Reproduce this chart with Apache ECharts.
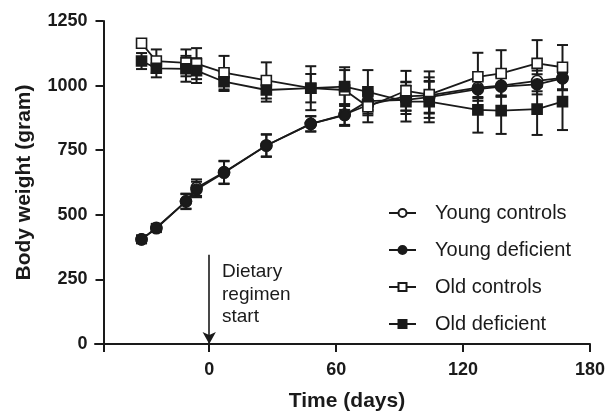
<!DOCTYPE html>
<html><head><meta charset="utf-8">
<script src="https://cdn.jsdelivr.net/npm/echarts@6/dist/echarts.min.js"></script>
<style>html,body{margin:0;padding:0;background:#fff}#c{width:609px;height:411px}</style>
</head><body><div id="c"></div>
<script>
// ---- data ----
const days = [-32, -25, -11, -6, 7, 27, 48, 64, 75, 93, 104, 127, 138, 155, 167];
const youngControls    = [405, 450, 552, 605, 665, 768, 852, 888, 925, 958, 962, 992, 1000, 1018, 1030];
const youngControlsErr = [15, 15, 30, 32, 44, 42, 30, 40, 40, 55, 70, 36, 38, 40, 45];
const youngDeficient    = [405, 448, 552, 598, 663, 768, 852, 886, 940, 945, 955, 986, 996, 1005, 1028];
const youngDeficientErr = [15, 15, 28, 30, 44, 44, 29, 42, 35, 55, 60, 35, 38, 39, 46];
const oldControls    = [1164, 1095, 1088, 1085, 1050, 1020, 990, 983, 918, 980, 965, 1034, 1047, 1086, 1071];
const oldControlsErr = [10, 45, 52, 60, 65, 70, 85, 77, 60, 77, 90, 93, 90, 90, 86];
const oldDeficient    = [1095, 1067, 1065, 1058, 1015, 983, 990, 996, 976, 938, 938, 906, 903, 909, 938];
const oldDeficientErr = [31, 35, 50, 48, 36, 45, 55, 75, 84, 77, 80, 88, 90, 100, 110];
const seriesNames = ['Young controls', 'Young deficient', 'Old controls', 'Old deficient'];
const xTickLabels = [0, 60, 120, 180];
const yTickLabels = [0, 250, 500, 750, 1000, 1250];
const arrowDay = 0;
const arrowFrom = 345;
const annotation = 'Dietary\nregimen\nstart';

// ---- styling ----
const INK = '#1a1a1a';
const FONT = "'Liberation Sans', Arial, Helvetica, sans-serif";

function pts(vals) { return days.map((d, i) => [d, vals[i]]); }
function errs(vals, e) { return days.map((d, i) => [d, vals[i] - e[i], vals[i] + e[i]]); }

function errRender(params, api) {
  const x = api.value(0), lo = api.value(1), hi = api.value(2);
  const a = api.coord([x, lo]), b = api.coord([x, hi]);
  const hw = 5.5;
  const st = { stroke: INK, lineWidth: 2, fill: null };
  return { type: 'group', children: [
    { type: 'line', shape: { x1: a[0], y1: a[1], x2: b[0], y2: b[1] }, style: st },
    { type: 'line', shape: { x1: a[0] - hw, y1: a[1], x2: a[0] + hw, y2: a[1] }, style: st },
    { type: 'line', shape: { x1: b[0] - hw, y1: b[1], x2: b[0] + hw, y2: b[1] }, style: st }
  ]};
}
function errSeries(name, vals, e, z) {
  return { type: 'custom', name: name + ' err', renderItem: errRender, data: errs(vals, e),
    encode: { x: 0, y: [1, 2] }, z: z, silent: true, animation: false };
}
function lineSeries(name, vals, symbol, filled, z) {
  return { type: 'line', name: name, data: pts(vals), symbol: symbol, symbolSize: symbol === 'rect' ? 10 : 11,
    showAllSymbol: true, z: z,
    lineStyle: { color: INK, width: 1.8 },
    itemStyle: { color: filled ? INK : '#fff', borderColor: INK, borderWidth: 1.6 },
    emphasis: { disabled: true }, animation: false };
}

const chart = echarts.init(document.getElementById('c'), null, { renderer: 'canvas' });
chart.setOption({
  backgroundColor: '#fff',
  animation: false,
  textStyle: { fontFamily: FONT, color: INK },
  grid: { left: 95, right: 19, top: 21, bottom: 67, containLabel: false, outerBoundsMode: 'none' },
  xAxis: {
    type: 'value', min: -54, max: 180,
    name: 'Time (days)', nameLocation: 'middle', nameGap: 47,
    nameTextStyle: { fontFamily: FONT, fontSize: 21, fontWeight: 'bold', color: INK, padding: [0, 0, 0, 9] },
    axisLine: { show: true, onZero: false, lineStyle: { color: INK, width: 2 } },
    axisTick: { show: true, length: 8, lineStyle: { color: INK, width: 2 }, customValues: [-50].concat(xTickLabels) },
    axisLabel: { customValues: xTickLabels, margin: 17, fontFamily: FONT, fontSize: 18, fontWeight: 'bold', color: INK,
      formatter: v => String(v) },
    splitLine: { show: false }
  },
  yAxis: {
    type: 'value', min: 0, max: 1250, interval: 250, offset: -8.5,
    name: 'Body weight (gram)', nameLocation: 'middle', nameGap: 69, nameRotate: 90,
    nameTextStyle: { fontFamily: FONT, fontSize: 21, fontWeight: 'bold', color: INK },
    axisLine: { show: true, onZero: false, lineStyle: { color: INK, width: 2 } },
    axisTick: { show: true, length: 8, lineStyle: { color: INK, width: 2 }, customValues: yTickLabels },
    axisLabel: { customValues: yTickLabels, margin: 16, fontFamily: FONT, fontSize: 18, fontWeight: 'bold', color: INK,
      formatter: v => String(v) },
    splitLine: { show: false }
  },
  legend: {
    orient: 'vertical', left: 388, top: 203, padding: 0,
    itemWidth: 27, itemHeight: 10, itemGap: 17,
    data: seriesNames,
    textStyle: { fontFamily: FONT, fontSize: 20, color: INK, padding: [0, 0, 0, 14] }
  },
  graphic: [{
    type: 'text', left: 222, top: 261,
    style: { text: annotation, font: '19px ' + FONT, fill: INK, lineHeight: 22.5 }
  }],
  series: [
    errSeries(seriesNames[0], youngControls, youngControlsErr, 1),
    errSeries(seriesNames[1], youngDeficient, youngDeficientErr, 1),
    errSeries(seriesNames[2], oldControls, oldControlsErr, 1),
    errSeries(seriesNames[3], oldDeficient, oldDeficientErr, 1),
    Object.assign(lineSeries(seriesNames[0], youngControls, 'circle', false, 3), {
      markLine: {
        silent: true, symbol: ['none', 'arrow'], symbolSize: [10, 12], animation: false,
        label: { show: false },
        lineStyle: { color: INK, width: 1.6, type: 'solid' },
        data: [[{ coord: [arrowDay, arrowFrom] }, { coord: [arrowDay, 0] }]]
      }
    }),
    lineSeries(seriesNames[1], youngDeficient, 'circle', true, 4),
    lineSeries(seriesNames[2], oldControls, 'rect', false, 5),
    lineSeries(seriesNames[3], oldDeficient, 'rect', true, 6)
  ]
});
</script>
</body></html>
